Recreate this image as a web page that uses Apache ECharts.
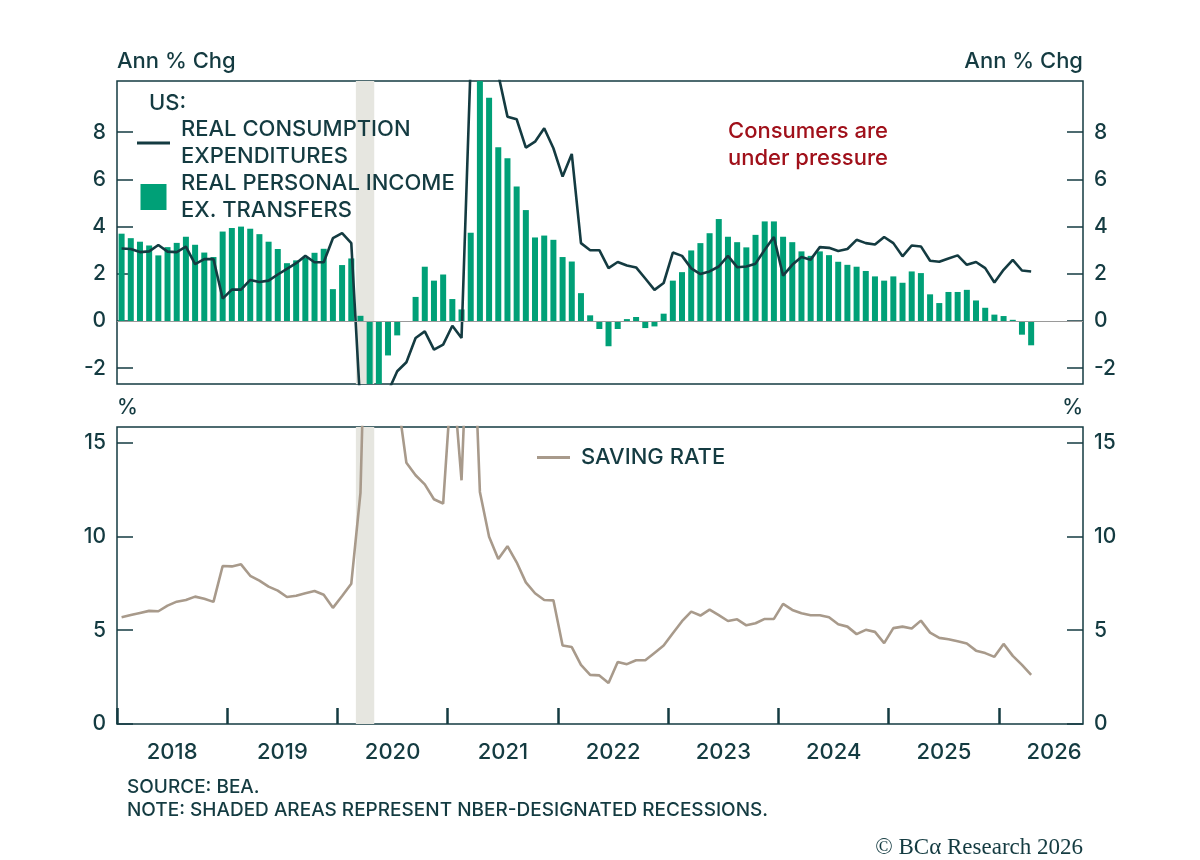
<!DOCTYPE html>
<html>
<head>
<meta charset="utf-8">
<script src="https://cdn.jsdelivr.net/npm/echarts@6/dist/echarts.min.js"></script>
<style>
  html, body { margin: 0; padding: 0; background: #fff; }
  #chart { width: 1200px; height: 860px; }
</style>
</head>
<body>
<div id="chart"></div>
<script>
// monthly observations, Jan 2018 onwards
const firstYear = 2018;
const monthCount = 100;
const months = [];
for (let i = 0; i < monthCount; i++) {
  const y = firstYear + Math.floor(i / 12);
  const m = (i % 12) + 1;
  months.push(y + '-' + (m < 10 ? '0' + m : m));
}

// real consumption expenditures, ann % chg
const consumption = [
  3.07, 3.05, 2.92, 2.95, 3.22, 2.94, 2.92, 3.15, 2.41, 2.62, 2.62, 0.95,
  1.33, 1.33, 1.74, 1.65, 1.71, 1.97, 2.21, 2.45, 2.76, 2.49, 2.49, 3.51,
  3.72, 3.30, -3.7, -17.0, -9.5, -3.0, -2.13, -1.75, -0.72, -0.44, -1.21, -1.00,
  -0.20, -0.72, 11.0, 26.0, 16.0, 10.45, 8.66, 8.55, 7.35, 7.60, 8.17, 7.32,
  6.12, 7.08, 3.30, 3.00, 3.00, 2.24, 2.50, 2.35, 2.27, 1.80, 1.32, 1.61,
  2.90, 2.76, 2.23, 1.99, 2.10, 2.31, 2.76, 2.28, 2.31, 2.43, 3.02, 3.56,
  1.92, 2.38, 2.71, 2.60, 3.13, 3.10, 2.97, 3.05, 3.44, 3.30, 3.24, 3.56,
  3.30, 2.74, 3.20, 3.16, 2.55, 2.51, 2.65, 2.78, 2.38, 2.50, 2.24, 1.63,
  2.17, 2.59, 2.14, 2.10
];

// real personal income ex. transfers, ann % chg
const incomeExTransfers = [
  3.70, 3.51, 3.36, 3.20, 2.78, 3.13, 3.31, 3.57, 3.23, 2.90, 2.71, 3.79,
  3.94, 4.00, 3.91, 3.68, 3.36, 3.05, 2.45, 2.57, 2.67, 2.89, 3.06, 1.35,
  2.37, 2.65, 0.22, -8.5, -6.0, -1.46, -0.61, 0.00, 1.02, 2.30, 1.71, 1.97,
  0.93, 0.49, 3.74, 12.5, 9.46, 7.36, 6.90, 5.70, 4.70, 3.54, 3.62, 3.44,
  2.71, 2.52, 1.18, 0.24, -0.34, -1.07, -0.34, 0.08, 0.17, -0.30, -0.23, 0.31,
  1.71, 2.07, 2.99, 3.30, 3.72, 4.32, 3.57, 3.34, 3.12, 3.65, 4.22, 4.22,
  3.57, 3.34, 2.95, 2.76, 2.95, 2.79, 2.51, 2.38, 2.30, 2.12, 1.89, 1.71,
  1.89, 1.62, 2.10, 2.03, 1.13, 0.76, 1.23, 1.23, 1.32, 0.87, 0.56, 0.27,
  0.21, 0.05, -0.58, -1.03
];

// personal saving rate, %
const savingRate = [
  5.69, 5.81, 5.92, 6.03, 6.01, 6.31, 6.52, 6.61, 6.79, 6.68, 6.51, 8.42,
  8.40, 8.51, 7.90, 7.64, 7.32, 7.11, 6.77, 6.84, 6.97, 7.09, 6.89, 6.19,
  6.82, 7.48, 12.32, 31.0, 24.0, 19.0, 17.5, 13.92, 13.26, 12.77, 11.98, 11.75,
  19.0, 12.99, 25.2, 12.37, 9.98, 8.79, 9.48, 8.62, 7.55, 6.97, 6.61, 6.59,
  4.18, 4.10, 3.15, 2.62, 2.59, 2.18, 3.31, 3.19, 3.40, 3.40, 3.79, 4.18,
  4.84, 5.48, 5.99, 5.78, 6.10, 5.80, 5.49, 5.58, 5.26, 5.37, 5.60, 5.60,
  6.40, 6.08, 5.90, 5.80, 5.80, 5.69, 5.32, 5.19, 4.79, 5.02, 4.91, 4.31,
  5.11, 5.19, 5.09, 5.51, 4.87, 4.59, 4.52, 4.41, 4.29, 3.91, 3.78, 3.58,
  4.27, 3.63, 3.15, 2.62
];

const recession = ['2020-03', '2020-04']; // NBER peak to trough months

const yearTicks = [2018, 2019, 2020, 2021, 2022, 2023, 2024, 2025, 2026];
const topTicks = [-2, 0, 2, 4, 6, 8];
const savingTicks = [0, 5, 10, 15];

const pceName = 'REAL CONSUMPTION\nEXPENDITURES';
const incomeName = 'REAL PERSONAL INCOME\nEX. TRANSFERS';
const savingName = 'SAVING RATE';

const dark = '#143b41';
const green = '#00a077';
const taupe = '#a89a8b';
const shade = '#e6e6e0';
const font = 'Inter, "Noto Sans", sans-serif';
const weight = 500;

// month 'YYYY-MM' -> decimal year at mid-month
const midMonth = ym => {
  const [y, m] = ym.split('-').map(Number);
  return y + (m - 0.5) / 12;
};
const monthStart = ym => {
  const [y, m] = ym.split('-').map(Number);
  return y + (m - 1) / 12;
};
const monthEnd = ym => monthStart(ym) + 1 / 12;

const xs = months.map(midMonth);
const pair = arr => arr.map((v, i) => [xs[i], v]);

const xMin = 2018;
const xMax = 2026.762;
const yearMids = yearTicks.map(y => y + 0.5);

const recessionArea = {
  silent: true,
  itemStyle: { color: shade },
  data: [[{ xAxis: monthStart(recession[0]) }, { xAxis: monthEnd(recession[1]) }]],
};

const yAxisBase = (grid, pos, min, max, ticks) => ({
  type: 'value',
  gridIndex: grid,
  position: pos,
  min,
  max,
  axisLine: { show: false },
  splitLine: { show: false },
  axisTick: {
    show: true,
    inside: true,
    length: 16,
    customValues: ticks,
    lineStyle: { color: dark, width: 1.5 },
  },
  axisLabel: {
    customValues: ticks,
    color: dark,
    fontSize: 21,
    fontWeight: weight,
    fontFamily: font,
    margin: 11,
  },
});

const txt = size => weight + ' ' + size + 'px ' + font;

const chart = echarts.init(document.getElementById('chart'));

chart.setOption({
  animation: false,
  backgroundColor: '#fff',
  grid: [
    { left: 117, right: 117, top: 81, height: 303, show: true, borderColor: dark, borderWidth: 1.5 },
    { left: 117, right: 117, top: 427, height: 297, show: true, borderColor: dark, borderWidth: 1.5 },
  ],
  xAxis: [
    {
      type: 'value', gridIndex: 0, min: xMin, max: xMax,
      axisLine: { show: false }, axisTick: { show: false }, axisLabel: { show: false }, splitLine: { show: false },
    },
    {
      type: 'value', gridIndex: 1, min: xMin, max: xMax,
      axisLine: { show: false }, splitLine: { show: false },
      axisTick: {
        show: true, inside: true, length: 16, customValues: yearTicks,
        lineStyle: { color: dark, width: 2.5 },
      },
      axisLabel: {
        customValues: yearMids,
        formatter: v => String(Math.floor(v)),
        color: dark, fontSize: 22, fontWeight: weight, fontFamily: font, margin: 17,
      },
    },
  ],
  yAxis: [
    yAxisBase(0, 'left', -2.67, 10.17, topTicks),
    yAxisBase(0, 'right', -2.67, 10.17, topTicks),
    yAxisBase(1, 'left', 0, 15.83, savingTicks),
    yAxisBase(1, 'right', 0, 15.83, savingTicks),
  ],
  legend: [
    {
      orient: 'vertical',
      left: 137,
      top: 116,
      padding: 0,
      itemWidth: 33,
      itemHeight: 26,
      itemGap: 0,
      selectedMode: false,
      data: [
        { name: pceName, icon: 'path://M0,0L33,0L33,3L0,3Z' },
        { name: incomeName, icon: 'path://M0,0L1,0L1,1L0,1Z' },
      ],
      textStyle: {
        color: dark, fontSize: 22, fontWeight: weight, lineHeight: 27, fontFamily: font, padding: [0, 0, 0, 6],
      },
    },
    {
      left: 537,
      top: 444,
      padding: 0,
      itemWidth: 33,
      itemHeight: 26,
      selectedMode: false,
      data: [{ name: savingName, icon: 'path://M0,0L33,0L33,3L0,3Z' }],
      textStyle: {
        color: dark, fontSize: 22, fontWeight: weight, lineHeight: 27, fontFamily: font, padding: [0, 0, 0, 6],
      },
    },
  ],
  graphic: [
    { type: 'text', left: 117, top: 50, style: { text: 'Ann % Chg', fill: dark, font: txt(22) } },
    { type: 'text', right: 117, top: 50, style: { text: 'Ann % Chg', fill: dark, font: txt(22) } },
    { type: 'text', left: 149, top: 92, style: { text: 'US:', fill: dark, font: txt(22) } },
    {
      type: 'text', left: 728, top: 118,
      style: { text: 'Consumers are\nunder pressure', fill: '#a0101a', font: txt(22), lineHeight: 27 },
    },
    { type: 'text', left: 117, top: 397, style: { text: '%', fill: dark, font: txt(21) } },
    { type: 'text', right: 117, top: 397, style: { text: '%', fill: dark, font: txt(21) } },
    {
      type: 'text', left: 127, top: 776,
      style: {
        text: 'SOURCE: BEA.\nNOTE: SHADED AREAS REPRESENT NBER-DESIGNATED RECESSIONS.',
        fill: dark, font: txt(19), lineHeight: 23,
      },
    },
    {
      type: 'text', right: 117, top: 836,
      style: { text: '\u00a9 BC\u03b1 Research 2026', fill: dark, font: '23px "Liberation Serif", "DejaVu Serif", serif' },
    },
  ],
  series: [
    {
      // recession shading and zero line, top panel
      type: 'line', xAxisIndex: 0, yAxisIndex: 0, data: [], z: 0,
      markArea: recessionArea,
      markLine: {
        silent: true, symbol: 'none', label: { show: false },
        lineStyle: { color: '#9a9a9a', width: 1, type: 'solid' },
        data: [{ yAxis: 0 }],
      },
    },
    {
      // recession shading, bottom panel
      type: 'line', xAxisIndex: 1, yAxisIndex: 2, data: [], z: 0,
      markArea: recessionArea,
    },
    {
      name: incomeName,
      type: 'bar',
      xAxisIndex: 0,
      yAxisIndex: 0,
      barWidth: 6,
      itemStyle: { color: green },
      data: pair(incomeExTransfers),
      z: 2,
    },
    {
      name: pceName,
      type: 'line',
      xAxisIndex: 0,
      yAxisIndex: 0,
      showSymbol: false,
      lineStyle: { color: dark, width: 2.6 },
      itemStyle: { color: dark },
      data: pair(consumption),
      z: 3,
    },
    {
      name: savingName,
      type: 'line',
      xAxisIndex: 1,
      yAxisIndex: 2,
      showSymbol: false,
      lineStyle: { color: taupe, width: 2.6 },
      itemStyle: { color: taupe },
      data: pair(savingRate),
      z: 3,
    },
  ],
});
</script>
</body>
</html>
